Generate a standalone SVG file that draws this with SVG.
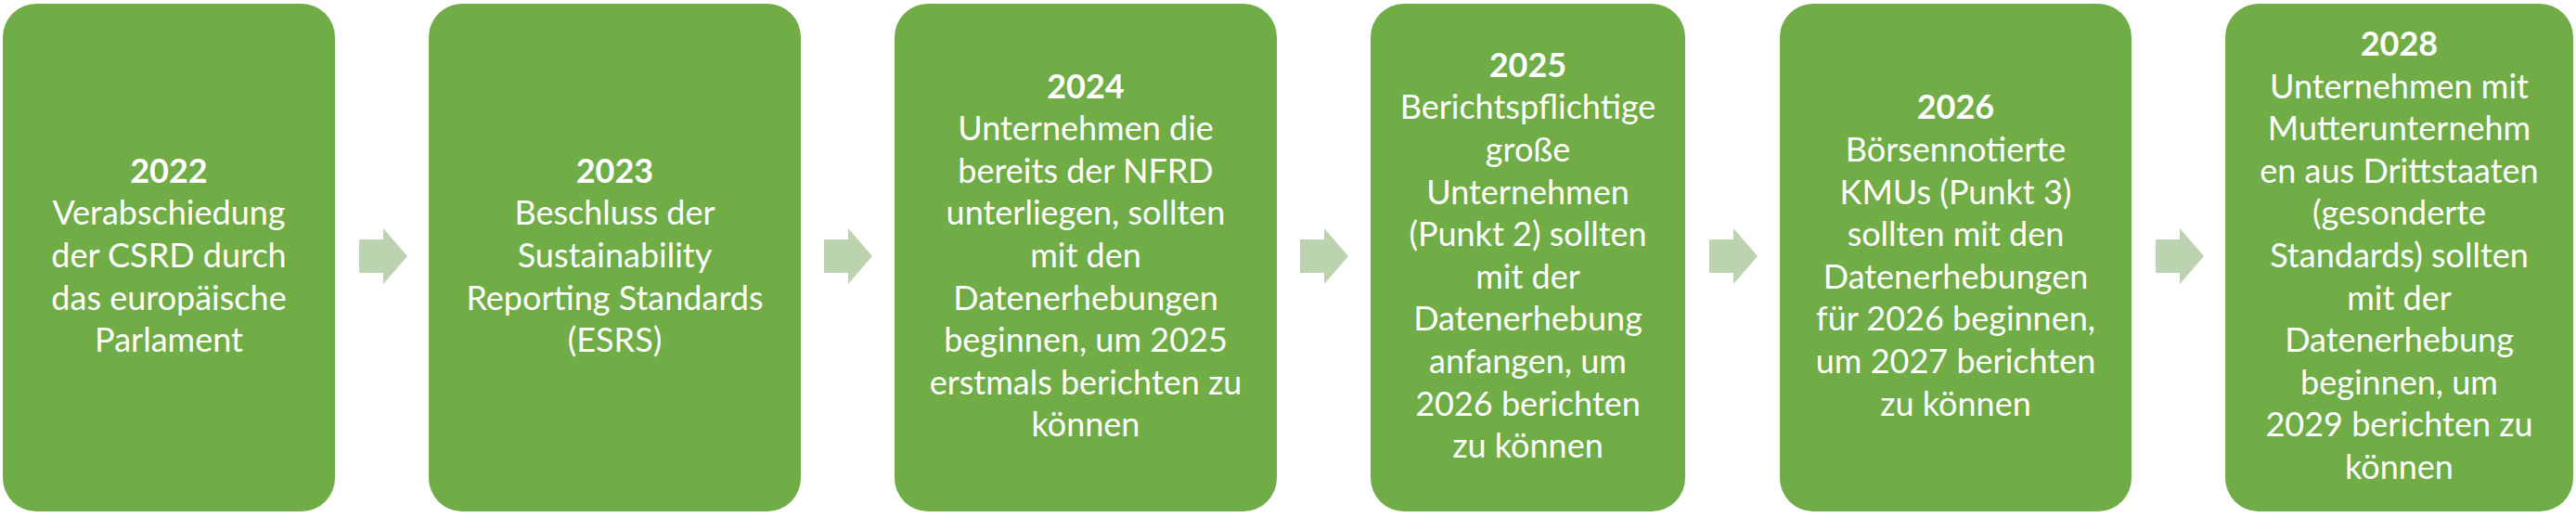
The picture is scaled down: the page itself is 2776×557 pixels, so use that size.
<svg xmlns="http://www.w3.org/2000/svg" xmlns:xlink="http://www.w3.org/1999/xlink" width="2776" height="557" viewBox="0 0 2776 557">
<style>
.box{fill:#70AD47;}
.arrow{fill:#BBD3AF;}
text{font-family:Lato,"Liberation Sans",sans-serif;font-size:36px;fill:#FFFFFF;text-anchor:middle;}
.yr{font-weight:bold;}
</style>
<defs>
<path id="arr" d="M0,-18 H26 V-30 L52,0 L26,30 V18 H0 Z"/>
</defs>
<rect width="2776" height="557" fill="#FFFFFF"/>
<g id="connectors">
<use xlink:href="#arr" class="arrow" x="387" y="276"/>
<use xlink:href="#arr" class="arrow" x="888" y="276"/>
<use xlink:href="#arr" class="arrow" x="1401" y="276"/>
<use xlink:href="#arr" class="arrow" x="1842" y="276"/>
<use xlink:href="#arr" class="arrow" x="2323" y="276"/>
</g>
<g id="node2022">
<rect class="box" x="3" y="4" width="358" height="547" rx="36"/>
<text x="182" y="196.8"><tspan class="yr" x="182">2022</tspan><tspan x="182" dy="45.6">Verabschiedung</tspan><tspan x="182" dy="45.6">der CSRD durch</tspan><tspan x="182" dy="45.6">das europäische</tspan><tspan x="182" dy="45.6">Parlament</tspan></text>
</g>
<g id="node2023">
<rect class="box" x="462" y="4" width="401" height="547" rx="36"/>
<text x="662.5" y="196.8"><tspan class="yr" x="662.5">2023</tspan><tspan x="662.5" dy="45.6">Beschluss der</tspan><tspan x="662.5" dy="45.6">Sustainability</tspan><tspan x="662.5" dy="45.6">Reporting Standards</tspan><tspan x="662.5" dy="45.6">(ESRS)</tspan></text>
</g>
<g id="node2024">
<rect class="box" x="964" y="4" width="412" height="547" rx="36"/>
<text x="1170" y="105.6"><tspan class="yr" x="1170">2024</tspan><tspan x="1170" dy="45.6">Unternehmen die</tspan><tspan x="1170" dy="45.6">bereits der NFRD</tspan><tspan x="1170" dy="45.6">unterliegen, sollten</tspan><tspan x="1170" dy="45.6">mit den</tspan><tspan x="1170" dy="45.6">Datenerhebungen</tspan><tspan x="1170" dy="45.6">beginnen, um 2025</tspan><tspan x="1170" dy="45.6">erstmals berichten zu</tspan><tspan x="1170" dy="45.6">können</tspan></text>
</g>
<g id="node2025">
<rect class="box" x="1477" y="4" width="339" height="547" rx="36"/>
<text x="1646.5" y="82.8"><tspan class="yr" x="1646.5">2025</tspan><tspan x="1646.5" dy="45.6">Berichtspflichtige</tspan><tspan x="1646.5" dy="45.6">große</tspan><tspan x="1646.5" dy="45.6">Unternehmen</tspan><tspan x="1646.5" dy="45.6">(Punkt 2) sollten</tspan><tspan x="1646.5" dy="45.6">mit der</tspan><tspan x="1646.5" dy="45.6">Datenerhebung</tspan><tspan x="1646.5" dy="45.6">anfangen, um</tspan><tspan x="1646.5" dy="45.6">2026 berichten</tspan><tspan x="1646.5" dy="45.6">zu können</tspan></text>
</g>
<g id="node2026">
<rect class="box" x="1918" y="4" width="379" height="547" rx="36"/>
<text x="2107.5" y="128.4"><tspan class="yr" x="2107.5">2026</tspan><tspan x="2107.5" dy="45.6">Börsennotierte</tspan><tspan x="2107.5" dy="45.6">KMUs (Punkt 3)</tspan><tspan x="2107.5" dy="45.6">sollten mit den</tspan><tspan x="2107.5" dy="45.6">Datenerhebungen</tspan><tspan x="2107.5" dy="45.6">für 2026 beginnen,</tspan><tspan x="2107.5" dy="45.6">um 2027 berichten</tspan><tspan x="2107.5" dy="45.6">zu können</tspan></text>
</g>
<g id="node2028">
<rect class="box" x="2398" y="4" width="375" height="547" rx="36"/>
<text x="2585.5" y="60"><tspan class="yr" x="2585.5">2028</tspan><tspan x="2585.5" dy="45.6">Unternehmen mit</tspan><tspan x="2585.5" dy="45.6">Mutterunternehm</tspan><tspan x="2585.5" dy="45.6">en aus Drittstaaten</tspan><tspan x="2585.5" dy="45.6">(gesonderte</tspan><tspan x="2585.5" dy="45.6">Standards) sollten</tspan><tspan x="2585.5" dy="45.6">mit der</tspan><tspan x="2585.5" dy="45.6">Datenerhebung</tspan><tspan x="2585.5" dy="45.6">beginnen, um</tspan><tspan x="2585.5" dy="45.6">2029 berichten zu</tspan><tspan x="2585.5" dy="45.6">können</tspan></text>
</g>
</svg>
